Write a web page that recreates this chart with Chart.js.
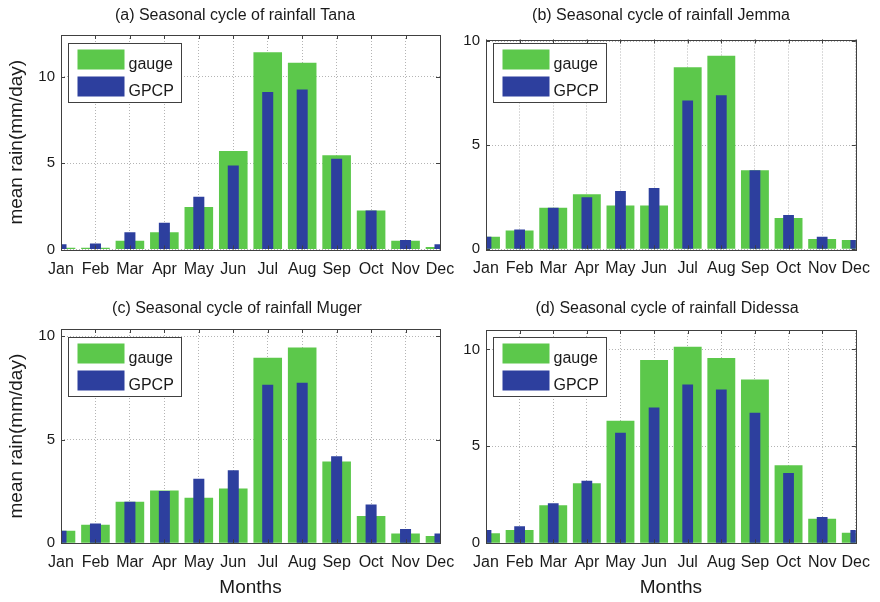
<!DOCTYPE html>
<html>
<head>
<meta charset="utf-8">
<title>Seasonal cycle of rainfall</title>
<script src="https://cdn.jsdelivr.net/npm/chart.js@4.4.1/dist/chart.umd.min.js"></script>
<style>
  html, body { margin: 0; padding: 0; background: #fff; }
  #wrap { position: relative; width: 880px; height: 602px; overflow: hidden; }
  #wrap canvas { position: absolute; }
</style>
</head>
<body>
<div id="wrap">
  <canvas id="tana" width="470" height="290" style="left:0;top:0"></canvas>
  <canvas id="jemma" width="440" height="290" style="left:440px;top:0"></canvas>
  <canvas id="muger" width="470" height="312" style="left:0;top:290px"></canvas>
  <canvas id="didessa" width="440" height="312" style="left:440px;top:290px"></canvas>
</div>
<script>
const months = ['Jan', 'Feb', 'Mar', 'Apr', 'May', 'Jun', 'Jul', 'Aug', 'Sep', 'Oct', 'Nov', 'Dec'];
const seriesNames = ['gauge', 'GPCP'];
const yTicks = [0, 5, 10];

// mean rain (mm/day)
const tanaGauge = [0.1, 0.1, 0.5, 1.0, 2.45, 5.7, 11.4, 10.8, 5.45, 2.25, 0.5, 0.15];
const tanaGpcp = [0.3, 0.35, 1.0, 1.55, 3.05, 4.85, 9.1, 9.25, 5.25, 2.25, 0.55, 0.3];
const jemmaGauge = [0.6, 0.9, 2.0, 2.65, 2.1, 2.1, 8.75, 9.3, 3.8, 1.5, 0.5, 0.45];
const jemmaGpcp = [0.6, 0.95, 2.0, 2.5, 2.8, 2.95, 7.15, 7.4, 3.8, 1.65, 0.6, 0.45];
const mugerGauge = [0.6, 0.9, 2.0, 2.55, 2.2, 2.65, 8.95, 9.45, 3.95, 1.32, 0.47, 0.35];
const mugerGpcp = [0.6, 0.95, 2.0, 2.52, 3.12, 3.52, 7.65, 7.75, 4.2, 1.87, 0.69, 0.47];
const didessaGauge = [0.52, 0.68, 1.96, 3.1, 6.32, 9.45, 10.14, 9.55, 8.45, 4.02, 1.27, 0.55];
const didessaGpcp = [0.68, 0.88, 2.06, 3.22, 5.7, 7.0, 8.19, 7.93, 6.73, 3.62, 1.36, 0.69];

const GREEN = '#5cc84b';
const BLUE = '#2d3f9e';
const TEXT = '#1a1a1a';
const LINE = '#404040';
const FONT = '"Liberation Sans", Arial, Helvetica, sans-serif';

Chart.defaults.font.family = FONT;
Chart.defaults.color = TEXT;

// title, inner legend, axes box and inward tick marks
const panelDecor = {
  id: 'panelDecor',
  afterDraw(chart, args, opts) {
    const { ctx, chartArea: a, scales: { x, y } } = chart;
    ctx.save();
    ctx.strokeStyle = LINE;
    ctx.lineWidth = 1;
    ctx.beginPath();
    x.ticks.forEach((t, i) => {
      const px = Math.round(x.getPixelForTick(i)) + 0.5;
      ctx.moveTo(px, a.top); ctx.lineTo(px, a.top + 4);
      ctx.moveTo(px, a.bottom); ctx.lineTo(px, a.bottom - 4);
    });
    y.ticks.forEach((t, i) => {
      const py = Math.round(y.getPixelForTick(i)) + 0.5;
      ctx.moveTo(a.left, py); ctx.lineTo(a.left + 4, py);
      ctx.moveTo(a.right, py); ctx.lineTo(a.right - 4, py);
    });
    ctx.stroke();
    ctx.strokeRect(Math.round(a.left) + 0.5, Math.round(a.top) + 0.5, Math.round(a.right - a.left), Math.round(a.bottom - a.top));

    // legend
    const bx = Math.round(a.left + 6.5) + 0.5;
    const by = Math.round(opts.legendTop) + 0.5;
    ctx.fillStyle = '#fff';
    ctx.fillRect(bx, by, 113, 59);
    ctx.strokeRect(bx, by, 113, 59);
    ctx.font = '16px "Liberation Sans", Arial, sans-serif';
    ctx.textAlign = 'left';
    ctx.textBaseline = 'alphabetic';
    chart.data.datasets.forEach((ds, i) => {
      const sy = by + 6 + i * 27;
      ctx.fillStyle = ds.backgroundColor;
      ctx.fillRect(bx + 9, sy, 47, 20);
      ctx.fillStyle = TEXT;
      ctx.fillText(ds.label, bx + 60, sy + 19);
    });

    // title
    ctx.font = '16px "Liberation Sans", Arial, sans-serif';
    ctx.textAlign = 'center';
    ctx.textBaseline = 'middle';
    ctx.fillStyle = TEXT;
    ctx.fillText(opts.title, opts.titleX, opts.titleY);
    ctx.restore();
  }
};

const makePanel = (id, title, gauge, gpcp, p) => new Chart(document.getElementById(id), {
  type: 'bar',
  data: {
    labels: months,
    datasets: [
      { label: seriesNames[0], data: gauge, backgroundColor: GREEN, barPercentage: 0.83, categoryPercentage: 1, grouped: false, order: 1 },
      { label: seriesNames[1], data: gpcp, backgroundColor: BLUE, barPercentage: 0.32, categoryPercentage: 1, grouped: false, order: 0 }
    ]
  },
  options: {
    responsive: false,
    animation: false,
    devicePixelRatio: 1,
    layout: { padding: { top: p.top, right: p.right, left: 0, bottom: 0 } },
    plugins: {
      legend: { display: false },
      tooltip: { enabled: false },
      panelDecor: { title, titleX: p.titleX, titleY: p.titleY, legendTop: p.legendTop }
    },
    scales: {
      x: {
        offset: false,
        grid: { offset: false, color: '#b4b4b4', drawTicks: false },
        border: { display: false, dash: [1, 2] },
        ticks: { font: { size: 16 }, padding: 10, maxRotation: 0, minRotation: 0, autoSkip: false },
        title: { display: p.xTitle, text: 'Months', font: { size: 19 }, padding: { top: 0, bottom: 2.6 } },
        afterFit: (s) => { s.height = p.xHeight; }
      },
      y: {
        min: 0,
        max: p.ymax,
        afterBuildTicks: (s) => { s.ticks = yTicks.map((v) => ({ value: v })); },
        grid: { color: '#b4b4b4', drawTicks: false },
        border: { display: false, dash: [1, 2] },
        ticks: { font: { size: 15 }, padding: 6 },
        title: { display: p.yTitle, text: 'mean rain(mm/day)', font: { size: 19 }, padding: { top: 5.6, bottom: 0 } },
        afterFit: (s) => { s.width = p.yWidth; }
      }
    }
  },
  plugins: [panelDecor]
});

makePanel('tana', '(a) Seasonal cycle of rainfall Tana', tanaGauge, tanaGpcp,
  { ymax: 12.4, top: 35, right: 30, yWidth: 61, xHeight: 40.5, titleX: 235, titleY: 16, legendTop: 42.5, yTitle: true, xTitle: false });
makePanel('jemma', '(b) Seasonal cycle of rainfall Jemma', jemmaGauge, jemmaGpcp,
  { ymax: 10.08, top: 39.5, right: 16, yWidth: 46, xHeight: 40.7, titleX: 221, titleY: 16, legendTop: 43, yTitle: false, xTitle: false });
makePanel('muger', '(c) Seasonal cycle of rainfall Muger', mugerGauge, mugerGpcp,
  { ymax: 10.34, top: 39, right: 30, yWidth: 61, xHeight: 58.7, titleX: 237, titleY: 18.5, legendTop: 46.5, yTitle: true, xTitle: true });
makePanel('didessa', '(d) Seasonal cycle of rainfall Didessa', didessaGauge, didessaGpcp,
  { ymax: 11.0, top: 40, right: 16, yWidth: 46, xHeight: 58.7, titleX: 227, titleY: 18.5, legendTop: 46.5, yTitle: false, xTitle: true });
</script>
</body>
</html>
